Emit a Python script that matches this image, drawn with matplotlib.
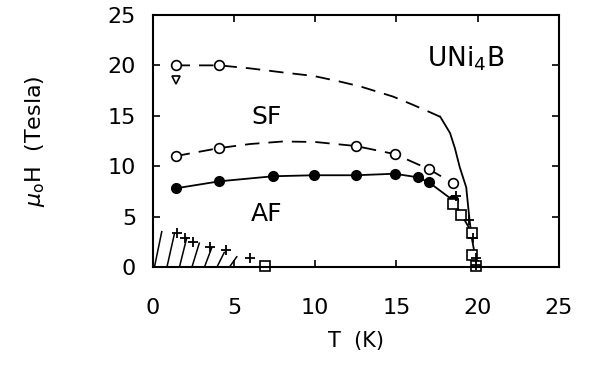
import numpy as np
import matplotlib
matplotlib.use("Agg")
import matplotlib.pyplot as plt

plt.rcParams['font.family'] = ['DejaVu Sans']
plt.rcParams['mathtext.fontset'] = 'dejavusans'

# Upper boundary (open circles + dashed/solid line)
top_circ_T = [1.4, 4.1]
top_circ_H = [20.0, 20.0]
top_dash_T = [1.4, 4.1, 6.0, 8.0, 9.9, 11.5, 12.8, 14.8, 16.0, 17.0, 17.7]
top_dash_H = [20.0, 20.0, 19.7, 19.3, 18.95, 18.4, 17.9, 16.9, 16.1, 15.4, 14.9]
top_solid_T = [17.7, 18.3, 18.6, 18.9, 19.3, 19.5, 19.65, 19.8]
top_solid_H = [14.9, 13.3, 11.8, 9.9, 7.9, 4.7, 2.8, 1.5]

tri_T = [1.4]
tri_H = [18.5]

# SF boundary (open circles, dashed)
sf_circ_T = [1.4, 4.1, 12.5, 14.9, 17.0, 18.5]
sf_circ_H = [11.0, 11.8, 12.0, 11.2, 9.7, 8.3]
sf_line_T = [1.4, 4.1, 6.0, 8.0, 10.0, 12.5, 14.9, 17.0, 18.5]
sf_line_H = [11.0, 11.8, 12.2, 12.45, 12.4, 12.0, 11.2, 9.7, 8.3]

# AF boundary (filled circles, solid)
af_T = [1.4, 4.1, 7.4, 9.9, 12.5, 14.9, 16.3, 17.0, 18.5]
af_H = [7.8, 8.5, 9.0, 9.1, 9.1, 9.25, 8.9, 8.4, 6.6]
af_tail_T = [18.5, 19.0, 19.65]
af_tail_H = [6.6, 5.2, 3.4]

# Squares
sq_T = [6.9, 18.5, 19.0, 19.65, 19.65, 19.9]
sq_H = [0.1, 6.2, 5.2, 3.4, 1.2, 0.1]

# Plus markers
plus_T = [1.5, 2.0, 2.5, 3.5, 4.5, 6.0, 18.7, 19.5, 19.7, 19.9, 19.9]
plus_H = [3.4, 2.9, 2.5, 2.0, 1.7, 0.9, 7.0, 4.7, 2.9, 0.9, 0.2]

# Hatched low-field region boundary
hatch_T = [0.0, 0.6, 1.4, 2.1, 2.8, 3.5, 4.3, 5.2, 5.9]
hatch_H = [3.6, 3.5, 3.2, 2.9, 2.4, 2.0, 1.5, 1.0, 0.4]

xticks = [0, 5, 10, 15, 20, 25]
yticks = [0, 5, 10, 15, 20, 25]

fig = plt.figure(figsize=(5.97, 3.65), dpi=100)
ax = fig.add_axes([0.256, 0.2685, 0.680, 0.6905])

lw = 1.3
ax.plot(top_dash_T, top_dash_H, color='black', lw=lw, dashes=(8, 5))
ax.plot(top_solid_T, top_solid_H, color='black', lw=lw)
ax.plot(top_circ_T, top_circ_H, 'o', mfc='white', mec='black', ms=7, mew=1.2)
ax.plot(tri_T, tri_H, 'v', mfc='white', mec='black', ms=6, mew=1.2)

ax.plot(sf_line_T, sf_line_H, color='black', lw=lw, dashes=(8, 5))
ax.plot(sf_circ_T, sf_circ_H, 'o', mfc='white', mec='black', ms=7, mew=1.2)

ax.plot(af_T, af_H, '-', color='black', lw=lw)
ax.plot(af_tail_T, af_tail_H, '-', color='black', lw=lw)
ax.plot(af_T, af_H, 'o', color='black', ms=7)

ax.plot(sq_T, sq_H, 's', mfc='white', mec='black', ms=7, mew=1.2, clip_on=False)
ax.plot(plus_T, plus_H, '+', color='black', ms=7, mew=1.3, clip_on=False)

# custom steep hatching under the low-field boundary
tops = np.arange(0.55, 5.6, 0.77)
for t in tops:
    h = np.interp(t, hatch_T, hatch_H)
    ax.plot([max(t - 0.45, 0.05), t], [0, h], color='black', lw=1.1)

ax.text(16.9, 20.7, r'UNi$_{4}$B', fontsize=19, ha='left', va='center')
ax.text(7.0, 14.9, 'SF', fontsize=18, ha='center', va='center')
ax.text(7.0, 5.3, 'AF', fontsize=18, ha='center', va='center')

ax.set_xlim(0, 25)
ax.set_ylim(0, 25)
ax.set_xticks(xticks)
ax.set_yticks(yticks)
ax.tick_params(direction='in', length=5, width=1.2, top=True, right=True,
               labelsize=16)
ax.tick_params(axis='x', pad=22)
ax.tick_params(axis='y', pad=12)
for s in ax.spines.values():
    s.set_linewidth(1.5)

ax.set_xlabel('T  (K)', fontsize=15, labelpad=10)
ax.set_ylabel(r'$\mu_{\rm o}$H  (Tesla)', fontsize=16, labelpad=44)

fig.savefig('out.png', dpi=100)
